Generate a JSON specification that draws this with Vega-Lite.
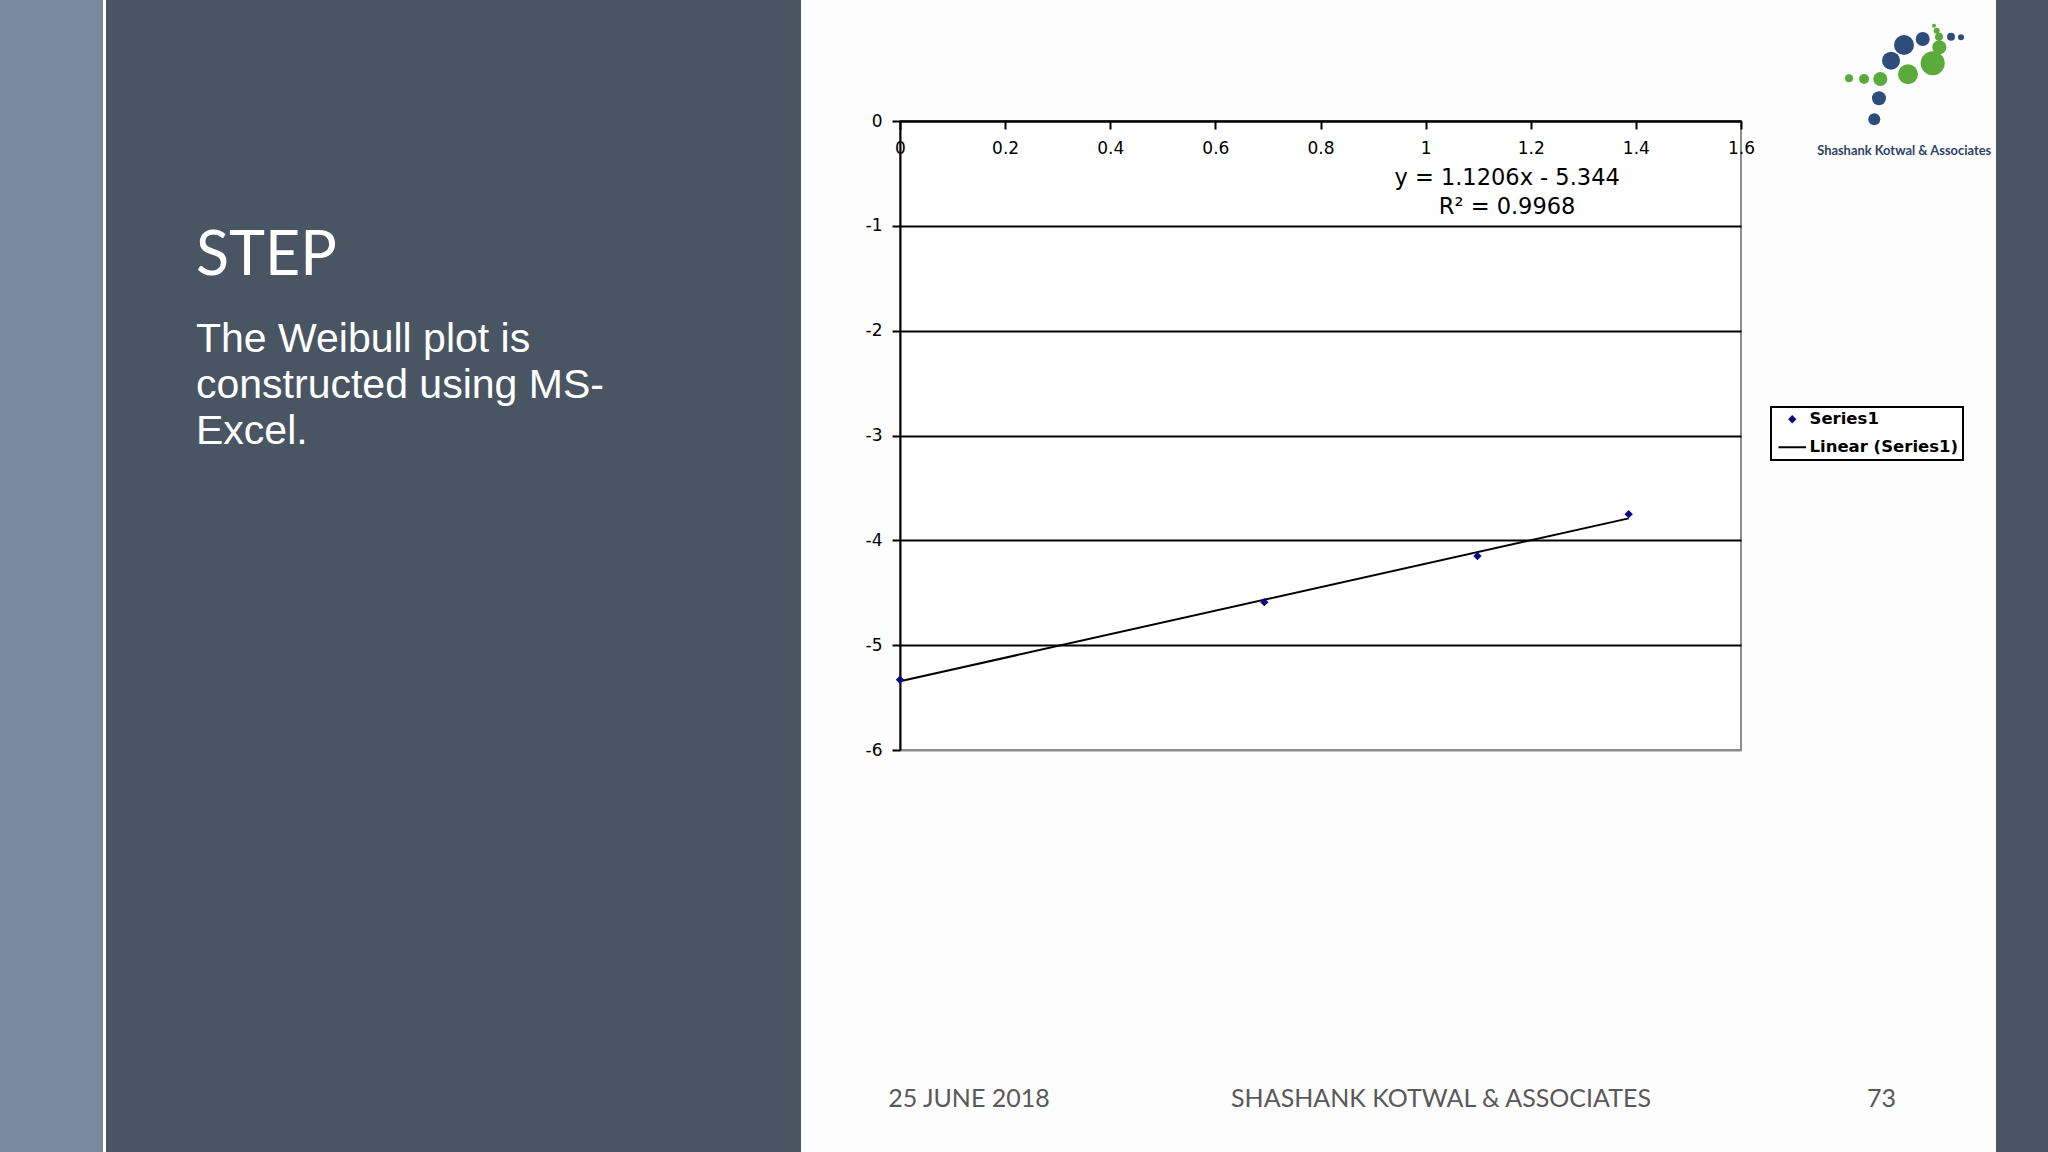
{
  "$schema": "https://vega.github.io/schema/vega-lite/v6.json",
  "padding": 0,
  "background": "#fdfdfe",
  "bounds": "flush",
  "spacing": 0,
  "columns": 7,
  "config": {"view": {"stroke": null}},
  "datasets": {
    "blank": [{}],
    "points": [
      {"x": 0, "y": -5.33, "series": "Series1"},
      {"x": 0.6931, "y": -4.59, "series": "Series1"},
      {"x": 1.0986, "y": -4.15, "series": "Series1"},
      {"x": 1.3863, "y": -3.75, "series": "Series1"}
    ],
    "trend": [
      {"x": 0, "y": -5.344},
      {"x": 1.3863, "y": -3.7905}
    ],
    "equation": [
      {"label": "y = 1.1206x - 5.344", "x": 1.155, "y": -0.54},
      {"label": "R² = 0.9968", "x": 1.155, "y": -0.816}
    ],
    "footer": [
      {"label": "25 JUNE 2018", "x": 0.1313, "y": -9.4055},
      {"label": "SHASHANK KOTWAL & ASSOCIATES", "x": 1.0293, "y": -9.4055},
      {"label": "73", "x": 1.8675, "y": -9.4055}
    ],
    "brand": [
      {"label": "Shashank Kotwal & Associates", "x": 1.9105, "y": -0.2862}
    ],
    "logo": [
      {"x": 1.8536, "y": 0.0162, "r": 6, "tone": "blue"},
      {"x": 1.8625, "y": 0.2165, "r": 7, "tone": "blue"},
      {"x": 1.8854, "y": 0.5752, "r": 9, "tone": "blue"},
      {"x": 1.9101, "y": 0.725, "r": 10, "tone": "blue"},
      {"x": 1.9457, "y": 0.7822, "r": 7, "tone": "blue"},
      {"x": 1.9995, "y": 0.8042, "r": 4, "tone": "blue"},
      {"x": 2.0185, "y": 0.7985, "r": 3, "tone": "blue"},
      {"x": 1.8055, "y": 0.4073, "r": 4, "tone": "green"},
      {"x": 1.8341, "y": 0.4006, "r": 5, "tone": "green"},
      {"x": 1.865, "y": 0.4006, "r": 7, "tone": "green"},
      {"x": 1.9177, "y": 0.4455, "r": 10, "tone": "green"},
      {"x": 1.9647, "y": 0.5504, "r": 12, "tone": "green"},
      {"x": 1.9773, "y": 0.703, "r": 7, "tone": "green"},
      {"x": 1.9767, "y": 0.8042, "r": 4, "tone": "green"},
      {"x": 1.9723, "y": 0.8614, "r": 3, "tone": "green"},
      {"x": 1.9672, "y": 0.9091, "r": 2, "tone": "green"}
    ]
  },
  "concat": [
    {"width": 103, "height": 121, "data": {"name": "blank"}, "mark": {"type": "text", "text": ""}, "view": {"fill": "#788b9e", "stroke": null}},
    {"width": 3, "height": 121, "data": {"name": "blank"}, "mark": {"type": "text", "text": ""}, "view": {"fill": "#ffffff", "stroke": null}},
    {"width": 695, "height": 121, "data": {"name": "blank"}, "mark": {"type": "text", "text": ""}, "view": {"fill": "#4a5563", "stroke": null}},
    {"width": 99, "height": 121, "data": {"name": "blank"}, "mark": {"type": "text", "text": ""}},
    {"width": 841, "height": 121, "data": {"name": "blank"}, "mark": {"type": "text", "text": ""}},
    {"width": 255, "height": 121, "data": {"name": "blank"}, "mark": {"type": "text", "text": ""}},
    {"width": 52, "height": 121, "data": {"name": "blank"}, "mark": {"type": "text", "text": ""}, "view": {"fill": "#4a5563", "stroke": null}},

    {"width": 103, "height": 629, "data": {"name": "blank"}, "mark": {"type": "text", "text": ""}, "view": {"fill": "#788b9e", "stroke": null}},
    {"width": 3, "height": 629, "data": {"name": "blank"}, "mark": {"type": "text", "text": ""}, "view": {"fill": "#ffffff", "stroke": null}},
    {
      "width": 695, "height": 629,
      "data": {"name": "blank"},
      "mark": {"type": "text", "text": ""},
      "view": {"fill": "#4a5563", "stroke": null},
      "title": {
        "text": "STEP",
        "subtitle": ["The Weibull plot is", "constructed using MS-", "Excel."],
        "frame": "group", "anchor": "start", "orient": "top",
        "offset": -332, "dx": 90, "baseline": "top",
        "font": "Lato", "fontSize": 61, "fontWeight": "normal", "color": "#ffffff",
        "subtitleFont": "Liberation Sans", "subtitleFontSize": 41, "subtitleFontWeight": "normal",
        "subtitleColor": "#ffffff", "subtitleLineHeight": 46, "subtitlePadding": 32
      }
    },
    {"width": 99, "height": 629, "data": {"name": "blank"}, "mark": {"type": "text", "text": ""}},
    {
      "width": 841, "height": 629,
      "view": {"stroke": "#8c8c8c", "strokeWidth": 2, "fill": "#ffffff"},
      "layer": [
        {
          "data": {"name": "trend"},
          "mark": {"type": "line", "color": "#000000", "strokeWidth": 2},
          "encoding": {
            "x": {
              "field": "x", "type": "quantitative",
              "scale": {"domain": [0, 1.6], "nice": false, "zero": false},
              "axis": {
                "orient": "top", "title": null,
                "values": [0, 0.2, 0.4, 0.6, 0.8, 1, 1.2, 1.4, 1.6],
                "format": "~g", "labelFlush": false, "labelOverlap": false,
                "domainColor": "#000000", "domainWidth": 2,
                "tickColor": "#000000", "tickWidth": 2, "tickSize": -8,
                "labelPadding": -24.5, "labelBaseline": "alphabetic",
                "labelFont": "DejaVu Sans", "labelFontSize": 17, "labelColor": "#000000",
                "grid": false
              }
            },
            "y": {
              "field": "y", "type": "quantitative",
              "scale": {"domain": [-6, 0], "nice": false, "zero": false},
              "axis": {
                "title": null,
                "values": [-6, -5, -4, -3, -2, -1, 0],
                "labelExpr": "datum.value < 0 ? '-' + abs(datum.value) : '0'",
                "labelOverlap": false,
                "domainColor": "#000000", "domainWidth": 2,
                "tickColor": "#000000", "tickWidth": 2, "tickSize": 8,
                "labelPadding": 10,
                "labelFont": "DejaVu Sans", "labelFontSize": 17, "labelColor": "#000000",
                "grid": true,
                "gridColor": {"condition": {"test": "datum.value <= -6", "value": "#8c8c8c"}, "value": "#000000"},
                "gridWidth": 2
              }
            }
          }
        },
        {
          "data": {"name": "points"},
          "mark": {"type": "point", "filled": true, "size": 70, "opacity": 1, "strokeWidth": 0},
          "encoding": {
            "x": {"field": "x", "type": "quantitative", "title": null},
            "y": {"field": "y", "type": "quantitative", "title": null},
            "color": {
              "field": "series", "type": "nominal",
              "scale": {"domain": ["Series1", "Linear (Series1)"], "range": ["#0a0a80", "#000000"]},
              "legend": {
                "title": null, "orient": "none", "legendX": 1771, "legendY": 407,
                "strokeColor": "#000000", "fillColor": "#ffffff", "padding": 4,
                "symbolSize": 70, "symbolOffset": 9, "labelOffset": 9, "rowPadding": 11,
                "labelFont": "DejaVu Sans", "labelFontSize": 16.5, "labelFontWeight": "bold", "labelColor": "#000000",
                "symbolStrokeWidth": 2,
                "encoding": {
                  "symbols": {
                    "stroke": {"condition": {"test": "datum.value === 'Series1'", "value": "transparent"}, "value": "#000000"},
                    "fill": {"condition": {"test": "datum.value === 'Series1'", "value": "#0a0a80"}, "value": "transparent"},
                    "strokeWidth": {"value": 2}
                  },
                  "legend": {"strokeWidth": {"value": 2}}
                }
              }
            },
            "shape": {
              "field": "series", "type": "nominal",
              "scale": {"domain": ["Series1", "Linear (Series1)"], "range": ["diamond", "M-3.3,0H3.3"]},
              "legend": {
                "title": null, "orient": "none", "legendX": 1771, "legendY": 407,
                "strokeColor": "#000000", "fillColor": "#ffffff", "padding": 4,
                "symbolSize": 70, "symbolOffset": 9, "labelOffset": 9, "rowPadding": 11,
                "labelFont": "DejaVu Sans", "labelFontSize": 16.5, "labelFontWeight": "bold", "labelColor": "#000000",
                "symbolStrokeWidth": 2,
                "encoding": {
                  "symbols": {
                    "stroke": {"condition": {"test": "datum.value === 'Series1'", "value": "transparent"}, "value": "#000000"},
                    "fill": {"condition": {"test": "datum.value === 'Series1'", "value": "#0a0a80"}, "value": "transparent"},
                    "strokeWidth": {"value": 2}
                  },
                  "legend": {"strokeWidth": {"value": 2}}
                }
              }
            }
          }
        },
        {
          "data": {"name": "equation"},
          "mark": {"type": "text", "font": "DejaVu Sans", "fontSize": 22.5, "color": "#000000", "align": "center", "baseline": "middle"},
          "encoding": {
            "x": {"field": "x", "type": "quantitative", "title": null},
            "y": {"field": "y", "type": "quantitative", "title": null},
            "text": {"field": "label"}
          }
        },
        {
          "data": {"name": "footer"},
          "mark": {"type": "text", "font": "Lato", "fontSize": 25, "color": "#595959", "align": "center", "baseline": "alphabetic"},
          "encoding": {
            "x": {"field": "x", "type": "quantitative", "title": null},
            "y": {"field": "y", "type": "quantitative", "title": null},
            "text": {"field": "label"}
          }
        },
        {
          "data": {"name": "brand"},
          "mark": {"type": "text", "font": "Lato", "fontSize": 12.9, "fontWeight": "bold", "color": "#2d4468", "align": "center", "baseline": "middle"},
          "encoding": {
            "x": {"field": "x", "type": "quantitative", "title": null},
            "y": {"field": "y", "type": "quantitative", "title": null},
            "text": {"field": "label"}
          }
        },
        {
          "data": {"name": "logo"},
          "transform": [{"filter": "datum.tone === 'blue'"}],
          "mark": {"type": "circle", "color": "#2e4d7b", "opacity": 1},
          "encoding": {
            "x": {"field": "x", "type": "quantitative", "title": null},
            "y": {"field": "y", "type": "quantitative", "title": null},
            "size": {"field": "r", "type": "quantitative", "legend": null,
              "scale": {"type": "pow", "exponent": 2, "domain": [0, 12], "range": [0, 576]}}
          }
        },
        {
          "data": {"name": "logo"},
          "transform": [{"filter": "datum.tone === 'green'"}],
          "mark": {"type": "circle", "color": "#5aaa3c", "opacity": 1},
          "encoding": {
            "x": {"field": "x", "type": "quantitative", "title": null},
            "y": {"field": "y", "type": "quantitative", "title": null},
            "size": {"field": "r", "type": "quantitative", "legend": null,
              "scale": {"type": "pow", "exponent": 2, "domain": [0, 12], "range": [0, 576]}}
          }
        }
      ]
    },
    {"width": 255, "height": 629, "data": {"name": "blank"}, "mark": {"type": "text", "text": ""}},
    {"width": 52, "height": 629, "data": {"name": "blank"}, "mark": {"type": "text", "text": ""}, "view": {"fill": "#4a5563", "stroke": null}},

    {"width": 103, "height": 402, "data": {"name": "blank"}, "mark": {"type": "text", "text": ""}, "view": {"fill": "#788b9e", "stroke": null}},
    {"width": 3, "height": 402, "data": {"name": "blank"}, "mark": {"type": "text", "text": ""}, "view": {"fill": "#ffffff", "stroke": null}},
    {"width": 695, "height": 402, "data": {"name": "blank"}, "mark": {"type": "text", "text": ""}, "view": {"fill": "#4a5563", "stroke": null}},
    {"width": 99, "height": 402, "data": {"name": "blank"}, "mark": {"type": "text", "text": ""}},
    {"width": 841, "height": 402, "data": {"name": "blank"}, "mark": {"type": "text", "text": ""}},
    {"width": 255, "height": 402, "data": {"name": "blank"}, "mark": {"type": "text", "text": ""}},
    {"width": 52, "height": 402, "data": {"name": "blank"}, "mark": {"type": "text", "text": ""}, "view": {"fill": "#4a5563", "stroke": null}}
  ]
}
